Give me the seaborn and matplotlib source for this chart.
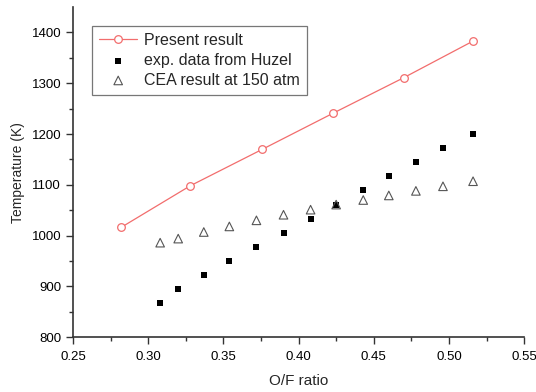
import matplotlib
matplotlib.use("Agg")
import matplotlib.pyplot as plt
import seaborn as sns
import pandas as pd

# ---- data ----
of_present = [0.282, 0.328, 0.376, 0.423, 0.470, 0.516]
temp_present = [1016, 1098, 1170, 1241, 1311, 1383]

of_exp = [0.308, 0.320, 0.337, 0.354, 0.372, 0.390, 0.408,
          0.425, 0.443, 0.460, 0.478, 0.496, 0.516]
temp_exp = [867, 895, 922, 950, 977, 1005, 1033,
            1061, 1089, 1117, 1145, 1173, 1200]
temp_cea = [986, 994, 1007, 1018, 1030, 1041, 1051,
            1061, 1070, 1079, 1088, 1097, 1107]

df_present = pd.DataFrame({"OF": of_present, "T": temp_present})
df_exp = pd.DataFrame({"OF": of_exp, "T": temp_exp})
df_cea = pd.DataFrame({"OF": of_exp, "T": temp_cea})

sns.set_theme(style="ticks")
plt.rcParams['font.family'] = ['Liberation Sans', 'DejaVu Sans']

fig = plt.figure(figsize=(5.36, 3.92), dpi=100)
ax = fig.add_axes([0.136, 0.140, 0.842, 0.842])

red = '#f26d6d'
sns.lineplot(ax=ax, data=df_present, x="OF", y="T", color=red, linewidth=0.9,
             marker='o', markersize=5.5, markerfacecolor='white',
             markeredgecolor=red, markeredgewidth=0.9, label='Present result')
sns.scatterplot(ax=ax, data=df_exp, x="OF", y="T", marker='s', s=22,
                color='black', edgecolor='black', linewidth=0,
                label='exp. data from Huzel')
sns.scatterplot(ax=ax, data=df_cea, x="OF", y="T", marker='^', s=38,
                facecolor='none', edgecolor='#555555', linewidth=0.8,
                label='CEA result at 150 atm')

ax.set_xlim(0.25, 0.55)
ax.set_ylim(800, 1450)
ax.set_xticks([0.25, 0.30, 0.35, 0.40, 0.45, 0.50, 0.55])
ax.set_xticks([0.275, 0.325, 0.375, 0.425, 0.475, 0.525], minor=True)
ax.set_yticks([800, 900, 1000, 1100, 1200, 1300, 1400])
ax.set_yticks([850, 950, 1050, 1150, 1250, 1350], minor=True)
ax.xaxis.set_major_formatter(matplotlib.ticker.FormatStrFormatter('%.2f'))

ax.tick_params(axis='both', which='major', direction='out', length=5,
               width=1, labelsize=9.5, colors='#333333', labelcolor='black')
ax.tick_params(axis='x', which='major', pad=5)
ax.tick_params(axis='both', which='minor', direction='out', length=3,
               width=1, colors='#333333')

for side in ['top', 'right']:
    ax.spines[side].set_visible(False)
for side in ['left', 'bottom']:
    ax.spines[side].set_linewidth(1.2)
    ax.spines[side].set_color('#333333')

ax.set_xlabel('O/F ratio', fontsize=11, labelpad=8)
ax.set_ylabel('Temperature (K)', fontsize=10, labelpad=5)

leg = ax.legend(loc='upper left', bbox_to_anchor=(0.042, 0.943), fontsize=11.5,
                frameon=True, fancybox=False, edgecolor='#555555',
                borderpad=0.45, labelspacing=0.3, handletextpad=0.4,
                handlelength=2.4, borderaxespad=0)
leg.get_frame().set_linewidth(0.9)

fig.savefig("out.png", dpi=100)
